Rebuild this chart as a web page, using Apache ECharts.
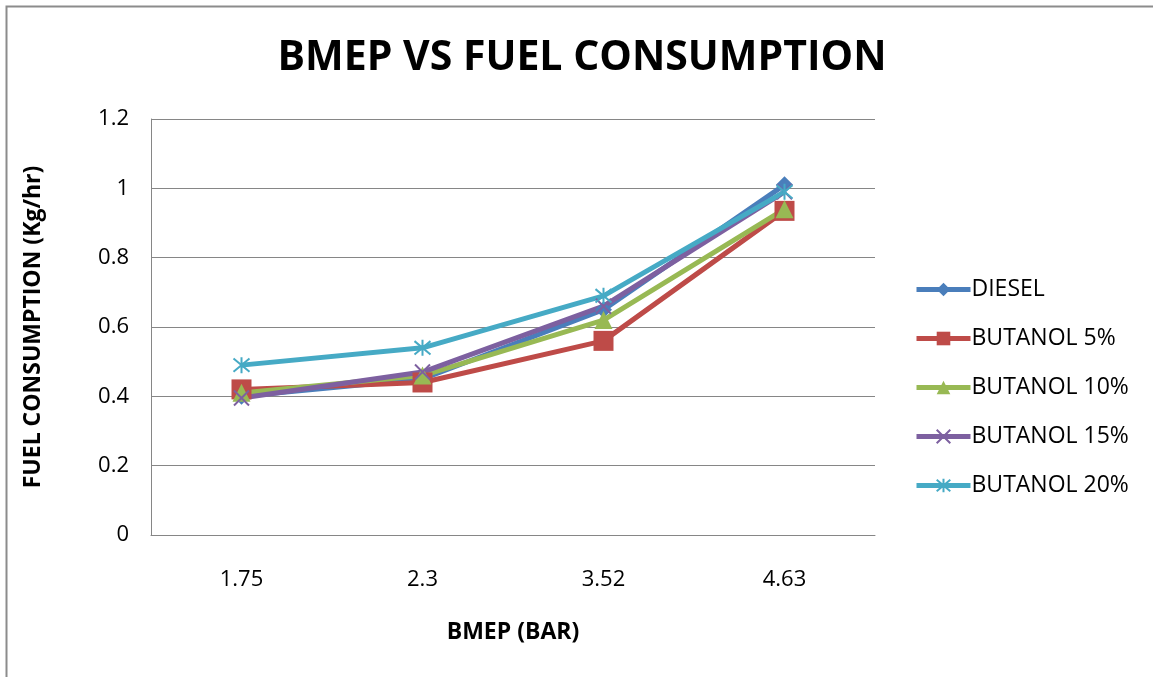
<!DOCTYPE html>
<html>
<head>
<meta charset="utf-8">
<script src="https://cdn.jsdelivr.net/npm/echarts@6/dist/echarts.min.js"></script>
<style>
html,body{margin:0;padding:0;background:#fff;}
#chart{width:1153px;height:677px;}
</style>
</head>
<body>
<div id="chart"></div>
<script>
// data
var bmep = ['1.75', '2.3', '3.52', '4.63'];
var diesel = [0.40, 0.45, 0.65, 1.01];
var butanol5 = [0.42, 0.44, 0.56, 0.935];
var butanol10 = [0.41, 0.46, 0.62, 0.94];
var butanol15 = [0.395, 0.47, 0.66, 0.99];
var butanol20 = [0.49, 0.54, 0.69, 0.99];
var yTicks = [0, 0.2, 0.4, 0.6, 0.8, 1, 1.2];

var xPath = 'path://M0,0L10,10M10,0L0,10';
var starPath = 'path://M0,0L10,10M10,0L0,10M5,-1L5,11';

var myChart = echarts.init(document.getElementById('chart'));
var font = 'Open Sans';

function mk(name, data, color, symbol, size, stroke){
	var s = {
		name: name,
		type: 'line',
		data: data,
		symbol: symbol,
		symbolSize: size,
		lineStyle: {color: color, width: 5},
		itemStyle: {color: color},
		z: 2
	};
	if(stroke){
		s.itemStyle = {color: 'rgba(0,0,0,0)', borderColor: color, borderWidth: 2};
	}
	return s;
}

var option = {
	animation: false,
	backgroundColor: '#fff',
	graphic: [{
		type: 'rect',
		shape: {x: 6.5, y: 6.5, width: 1160, height: 690},
		style: {fill: 'none', stroke: '#8c8c8c', lineWidth: 2}
	}],
	title: {
		text: 'BMEP VS FUEL CONSUMPTION',
		left: 577,
		top: 33,
		textAlign: 'center',
		textStyle: {fontFamily: font, fontWeight: 'bold', fontSize: 41, color: '#000'}
	},
	legend: {
		orient: 'vertical',
		left: 909,
		top: 273,
		itemGap: 26,
		itemWidth: 54,
		itemHeight: 17,
		lineStyle: {width: 5},
		textStyle: {fontFamily: font, fontSize: 23, color: '#000', padding: [0, 0, 0, -4]},
		data: ['DIESEL', 'BUTANOL 5%', 'BUTANOL 10%', 'BUTANOL 15%', 'BUTANOL 20%']
	},
	grid: {left: 151, top: 119, width: 724, height: 416},
	xAxis: {
		type: 'category',
		data: bmep,
		boundaryGap: true,
		name: 'BMEP (BAR)',
		nameLocation: 'middle',
		nameGap: 86,
		nameTextStyle: {fontFamily: font, fontWeight: 'bold', fontSize: 23, color: '#000'},
		axisLine: {lineStyle: {color: '#868686', width: 1}},
		axisTick: {show: false},
		axisLabel: {fontFamily: font, fontSize: 22, color: '#000', margin: 34}
	},
	yAxis: {
		type: 'value',
		min: 0,
		max: 1.2,
		interval: 0.2,
		name: 'FUEL CONSUMPTION (Kg/hr)',
		nameLocation: 'middle',
		nameGap: 106,
		nameTextStyle: {fontFamily: font, fontWeight: 'bold', fontSize: 23, color: '#000'},
		axisLine: {show: true, lineStyle: {color: '#868686', width: 1}},
		axisTick: {show: false},
		axisLabel: {
			fontFamily: font, fontSize: 22, color: '#000', margin: 22,
			formatter: function(v){ return yTicks.indexOf(Math.round(v*10)/10) >= 0 ? String(Math.round(v*10)/10) : ''; }
		},
		splitLine: {lineStyle: {color: '#868686', width: 1}}
	},
	series: [
		mk('DIESEL', diesel, '#4A7EBB', 'diamond', 17),
		mk('BUTANOL 5%', butanol5, '#BE4B48', 'rect', 20),
		mk('BUTANOL 10%', butanol10, '#98B954', 'triangle', 18),
		mk('BUTANOL 15%', butanol15, '#7D60A0', xPath, 15, true),
		mk('BUTANOL 20%', butanol20, '#46AAC5', starPath, 16, true)
	]
};
myChart.setOption(option);
</script>
</body>
</html>
